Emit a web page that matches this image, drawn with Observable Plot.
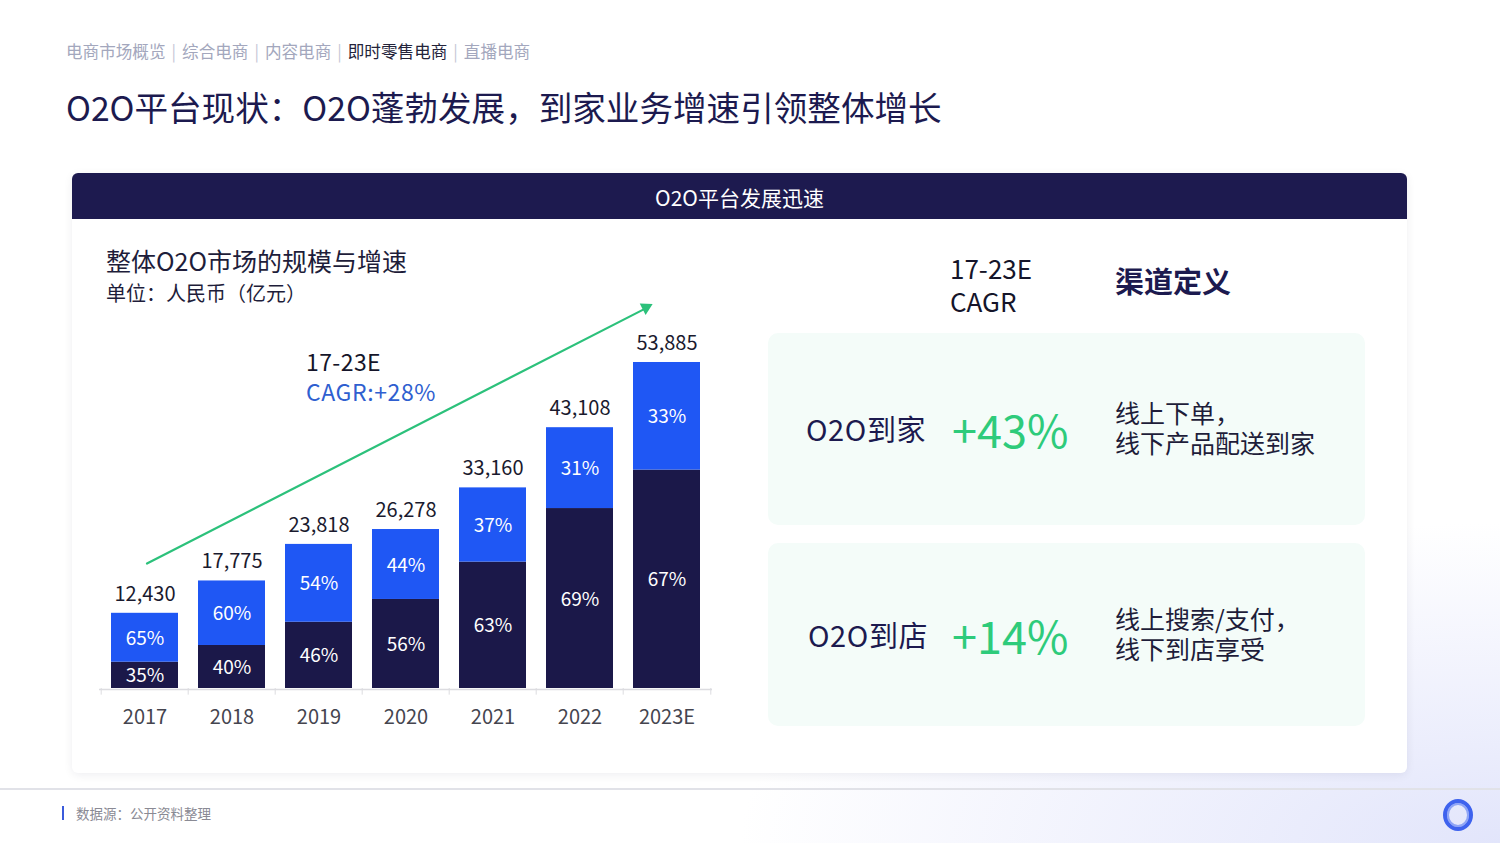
<!DOCTYPE html>
<html><head><meta charset="utf-8">
<script src="https://cdn.jsdelivr.net/npm/d3@7"></script>
<script src="https://cdn.jsdelivr.net/npm/@observablehq/plot@0.6"></script>
<style>
body{margin:0;background:#fff;font-family:"Noto Sans CJK SC","Noto Sans",sans-serif;}
#page{position:relative;width:1500px;height:843px;overflow:hidden;
 background:radial-gradient(ellipse 760px 320px at 100% 100%, #e2e5fb 0%, rgba(234,236,252,0.75) 45%, rgba(255,255,255,0) 100%);}
.t{position:absolute;white-space:nowrap;}
#card{position:absolute;left:72px;top:173px;width:1335px;height:600px;background:#fff;border-radius:6px;box-shadow:0 2px 10px rgba(20,20,60,0.07);}
#cardhead{position:absolute;left:0;top:0;width:100%;height:46px;background:#1d1a4f;border-radius:6px 6px 0 0;}
.box{position:absolute;left:768px;width:597px;background:#f4fcf9;border-radius:10px;}
#chart{position:absolute;left:80px;top:290px;}
#chart svg{overflow:visible;}
</style></head><body><div id="page"></div>
<script>
// ---- data ----
const years = ["2017","2018","2019","2020","2021","2022","2023E"];
const totals = [12430,17775,23818,26278,33160,43108,53885];
const shareDaojia = [35,40,46,56,63,69,67];   // bottom segment (O2O到家)
const shareDaodian = [65,60,54,44,37,31,33];  // top segment (O2O到店)
const segments = ["O2O到家","O2O到店"];
const segColors = ["#1b1849","#1f57f4"];
const cagrArrow = [{from:"2017", to:"2023E", y1:20660, y2:64800}];
const breadcrumb = ["电商市场概览","综合电商","内容电商","即时零售电商","直播电商"];
const activeCrumb = 3;
const pageTitle = "O2O平台现状：O2O蓬勃发展，到家业务增速引领整体增长";
const cardTitle = "O2O平台发展迅速";
const chartTitle = "整体O2O市场的规模与增速";
const chartUnit = "单位：人民币（亿元）";
const cagrLabel = ["17-23E","CAGR:+28%"];
const channels = [
  {name:"O2O到家", cagr:"+43%", def:["线上下单，","线下产品配送到家"]},
  {name:"O2O到店", cagr:"+14%", def:["线上搜索/支付，","线下到店享受"]}
];
const source = "数据源：公开资料整理";

// ---- helpers ----
const page = document.getElementById("page");
function place(parent, html, x, yc, size, color, weight, extra) {
  const d = document.createElement("div");
  d.className = "t";
  d.innerHTML = html;
  d.style.left = x + "px";
  d.style.top = (yc - size*0.55) + "px";
  d.style.fontSize = size + "px";
  d.style.lineHeight = (size*1.1) + "px";
  d.style.color = color;
  if (weight) d.style.fontWeight = weight;
  if (extra) Object.assign(d.style, extra);
  parent.appendChild(d);
  return d;
}
// two-line block: first line centred at yc1, line pitch lh
function place2(parent, html, x, yc1, size, lh, color, extra) {
  const d = document.createElement("div");
  d.className = "t";
  d.innerHTML = html;
  d.style.left = x + "px";
  d.style.top = (yc1 - lh/2) + "px";
  d.style.fontSize = size + "px";
  d.style.lineHeight = lh + "px";
  d.style.color = color;
  if (extra) Object.assign(d.style, extra);
  parent.appendChild(d);
  return d;
}

// breadcrumb
place(page, breadcrumb.map((b,i)=>`<span style="color:${i===activeCrumb?'#23233a':'#a3a7bd'}">${b}</span>`).join('<span style="color:#c4c7d6;margin:0 6px">|</span>'), 66, 51, 16.6, "#a3a7bd");
// title
place(page, pageTitle, 66, 107, 33.6, "#1c1a4f", 400);

// card
const card = document.createElement("div"); card.id="card"; page.appendChild(card);
const head = document.createElement("div"); head.id="cardhead"; card.appendChild(head);
place(head, cardTitle, 0, 25, 21, "#ffffff", 400, {width:"100%", textAlign:"center"});

place(page, chartTitle, 106, 261, 25, "#1e1d3a");
place(page, chartUnit, 106, 293, 20, "#1e1d3a");

// right panel
place2(page, "17-23E<br>CAGR", 950, 267, 26, 33, "#15152a");
place(page, "渠道定义", 1115, 281, 29, "#1c1a4f", 700);
const boxes = [{top:333,h:192},{top:543,h:183}];
channels.forEach((c,i)=>{
  const b = document.createElement("div"); b.className="box";
  b.style.top = boxes[i].top+"px"; b.style.height = boxes[i].h+"px";
  page.appendChild(b);
  const yc = boxes[i].top + boxes[i].h/2;
  place(page, c.name, 806 + i*2, yc, 29, "#1c1a4f", null, {letterSpacing:"0.6px"});
  place(page, c.cagr, 952, yc, 45, "#2ecb7b");
  place2(page, c.def.join("<br>"), 1115, yc-17, 25, 30, "#1e1d3a");
});

// footer
const line = document.createElement("div");
Object.assign(line.style,{position:"absolute",left:"0",top:"788px",width:"1500px",height:"2px",background:"#e1e2e8"});
page.appendChild(line);
const mark = document.createElement("div");
Object.assign(mark.style,{position:"absolute",left:"62px",top:"806px",width:"2px",height:"14px",background:"#3b5bdb"});
page.appendChild(mark);
place(page, source, 76, 813, 13.5, "#8a8a94");
const logo = document.createElement("div");
Object.assign(logo.style,{position:"absolute",left:"1443px",top:"799px",width:"22px",height:"24px",border:"4px solid #3e62ee",borderRadius:"50%",boxShadow:"inset 0 0 0 2px #8fa5f6"});
page.appendChild(logo);

// ---- chart ----
const rows = years.flatMap((y,i)=>[
  {year:y, seg:segments[0], value: totals[i]*shareDaojia[i]/100, share: shareDaojia[i]},
  {year:y, seg:segments[1], value: totals[i]*shareDaodian[i]/100, share: shareDaodian[i]}
]);
const totalRows = years.map((y,i)=>({year:y, total: totals[i]}));
const fmt = d3.format(",");

const chart = Plot.plot({
  width: 660, height: 450,
  marginLeft: 19, marginRight: 28, marginTop: 0, marginBottom: 52,
  x: {domain: years, paddingInner: 0.234, paddingOuter: 0.117, axis: null},
  y: {domain: [0, 65785], axis: null},
  color: {domain: segments, range: segColors},
  style: {fontFamily: '"Noto Sans CJK SC","Noto Sans",sans-serif', background: "transparent", overflow: "visible"},
  marks: [
    Plot.ruleY([0], {stroke: "#dcdce0", strokeWidth: 1.5, dy: 1}),
    Plot.ruleX(years, {x: d=>d, dx: -43.8, y1: 0, y2: -1100, stroke: "#dcdce0"}),
    Plot.ruleX([years[years.length-1]], {x: d=>d, dx: 43.8, y1: 0, y2: -1100, stroke: "#dcdce0"}),
    Plot.barY(rows, {x: "year", y: "value", fill: "seg", order: segments}),
    Plot.text(rows, Plot.stackY({x: "year", y: "value", z: "seg", order: segments, text: d=>d.share+"%", fill: "white", fontSize: 19, dy: 1})),
    Plot.text(totalRows, {x: "year", y: "total", text: d=>fmt(d.total), dy: -19, fontSize: 20, fill: "#1a1a2e"}),
    Plot.axisX({tickSize: 0, tickPadding: 21, fontSize: 20, color: "#45454f"}),
    Plot.arrow(cagrArrow, {x1: "from", y1: "y1", x2: "to", y2: "y2", stroke: "#2cc17b", strokeWidth: 2.2, headLength: 0, insetEnd: 24, dx: 2}),
    Plot.dot(cagrArrow, {x: "to", y: "y2", symbol: "triangle", r: 4.8, fill: "#2cc17b", stroke: null, rotate: 63, dx: -21, dy: 11})
  ]
});
const holder = document.createElement("div"); holder.id = "chart";
holder.appendChild(chart);
page.appendChild(holder);

// CAGR annotation
place2(page, `<span style="color:#15152a;letter-spacing:0.4px">${cagrLabel[0]}</span><br><span style="color:#2f5fd0;letter-spacing:0.6px">${cagrLabel[1]}</span>`, 306, 361, 23, 30, "#15152a");
</script></body></html>
